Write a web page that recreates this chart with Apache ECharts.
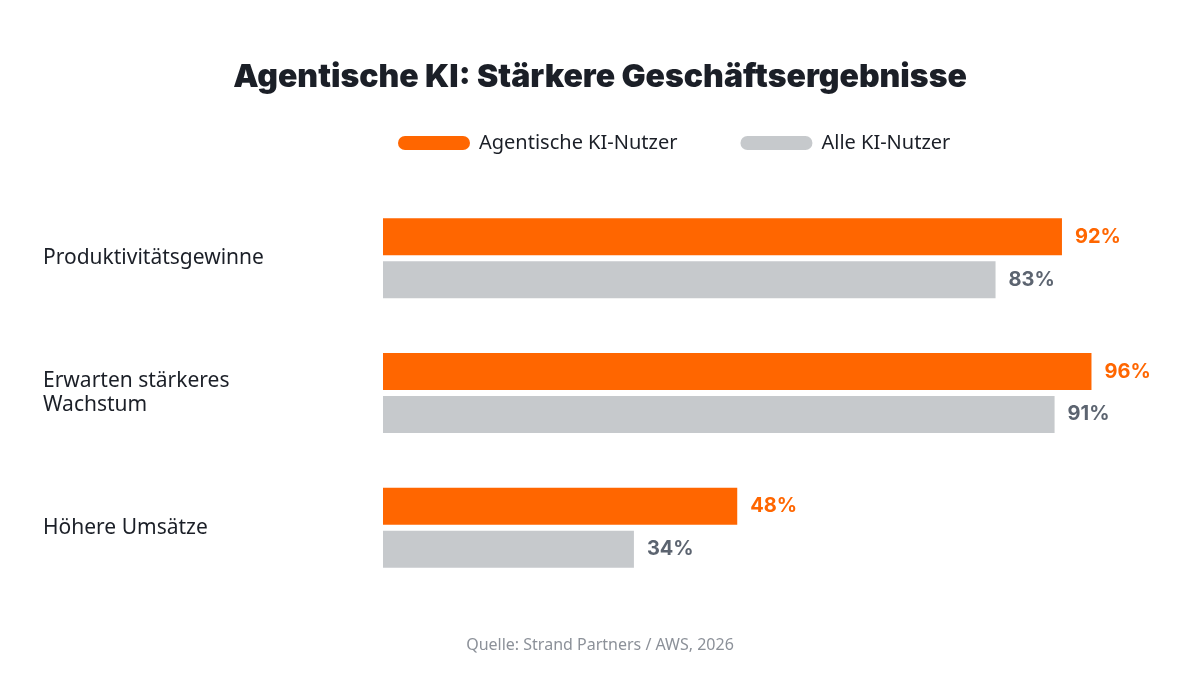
<!DOCTYPE html>
<html><head><meta charset="utf-8">
<script src="https://cdn.jsdelivr.net/npm/echarts@6/dist/echarts.min.js"></script>
<style>html,body{margin:0;padding:0;background:#fff}#c{width:1200px;height:675px}</style>
</head><body><div id="c"></div>
<script>
const categories = ["Produktivitätsgewinne", "Erwarten stärkeres\nWachstum", "Höhere Umsätze"];
const agentic = [92, 96, 48];
const allUsers = [83, 91, 34];
const seriesNames = ["Agentische KI-Nutzer", "Alle KI-Nutzer"];

const chart = echarts.init(document.getElementById('c'));
chart.setOption({
  backgroundColor: '#fff',
  textStyle: {fontFamily: 'Inter'},
  title: {
    text: 'Agentische KI: Stärkere Geschäftsergebnisse',
    left: 'center', top: 56,
    textStyle: {fontFamily: 'Inter', fontWeight: 900, fontSize: 32, color: '#1b1f27'}
  },
  legend: {
    top: 128, left: 393, itemWidth: 72, itemHeight: 15, itemGap: 63,
    icon: 'path://M7,0 H65 A7,7 0 0 1 65,14 H7 A7,7 0 0 1 7,0 Z',
    textStyle: {fontFamily: 'Noto Sans', fontSize: 20, color: '#1b1f27', padding: [0,0,0,4]},
    data: seriesNames
  },
  graphic: [{
    type: 'text', left: 'center', top: 637,
    style: {text: 'Quelle: Strand Partners / AWS, 2026', fontFamily: 'Noto Sans', fontSize: 16, fill: '#8c9199'}
  }],
  grid: {left: 383, right: 79, top: 191, bottom: 80},
  xAxis: {type: 'value', min: 0, max: 100, show: false},
  yAxis: {
    type: 'category', data: categories, inverse: true,
    axisLine: {show: false}, axisTick: {show: false},
    axisLabel: {align: 'left', margin: 340, fontFamily: 'Noto Sans', fontSize: 21, color: '#1b1f27', lineHeight: 24}
  },
  series: [
    {name: seriesNames[0], type: 'bar', data: agentic, barWidth: 37, barGap: '16%',
     itemStyle: {color: '#ff6600'},
     label: {show: true, position: 'right', distance: 13, formatter: '{c}%', fontFamily: 'Inter', fontWeight: 700, fontSize: 20, color: '#ff6600'}},
    {name: seriesNames[1], type: 'bar', data: allUsers, barWidth: 37,
     itemStyle: {color: '#c6c9cc'},
     label: {show: true, position: 'right', distance: 13, formatter: '{c}%', fontFamily: 'Inter', fontWeight: 700, fontSize: 20, color: '#5c6470'}}
  ]
});
</script></body></html>
